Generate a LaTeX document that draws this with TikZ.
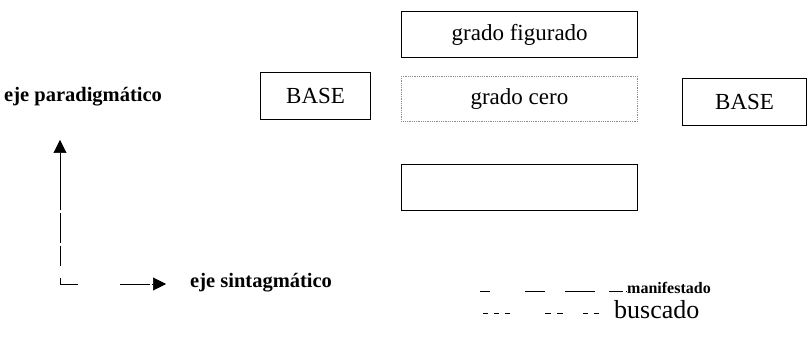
\documentclass[tikz,border=0pt]{standalone}
\usepackage{fontspec}
\setmainfont{Liberation Serif}
\usetikzlibrary{arrows.meta}
\begin{document}
\begin{tikzpicture}[x=1pt,y=-1pt,
  boxfont/.style={font=\fontsize{23}{25}\selectfont},
  solidbox/.style={draw=black,line width=1.4pt,minimum width=236pt,minimum height=46pt,anchor=north west,inner sep=0pt,boxfont},
  basebox/.style={draw=black,line width=1.2pt,minimum height=47pt,anchor=north west,inner sep=0pt,boxfont},
  zerobox/.style={draw=black!45,densely dotted,line width=0.8pt,minimum width=236pt,minimum height=45pt,anchor=north west,inner sep=0pt,boxfont},
  lbl/.style={inner sep=0pt,font=\bfseries\fontsize{20.5}{23}\selectfont},
  tip/.style={-{Triangle[length=13pt,width=13pt]}}]
\useasboundingbox (0,0) rectangle (807,339);
\node[solidbox] (fig) at (401,11) {grado figurado};
\node[zerobox] (cero) at (401,76) {grado cero};
\node[solidbox] (empty) at (401,164) {};
\node[basebox,minimum width=110pt] (base1) at (260,72) {BASE};
\node[basebox,minimum width=124pt] (base2) at (682,78) {BASE};
\node[lbl,anchor=west] (par) at (4,97) {eje paradigm\'atico};
\node[lbl,anchor=west] (sin) at (190,283) {eje sintagm\'atico};
\coordinate (corner) at (60,284);
\coordinate (uptip) at (60,140);
\coordinate (righttip) at (166,284);
\draw[line width=0.6pt,dash pattern=on 6pt off 12pt on 20pt off 3pt on 30pt off 3pt on 120pt,tip] (corner) -- (uptip);
\draw[line width=0.6pt,dash pattern=on 18pt off 42pt on 30pt off 2pt,tip] (corner) -- (righttip);
\node[inner sep=0pt,anchor=west,font=\bfseries\fontsize{16}{17}\selectfont] (man) at (627,288) {manifestado};
\node[inner sep=0pt,anchor=west,font=\fontsize{26}{27}\selectfont] (bus) at (614,310) {buscado};
\coordinate (mstart) at (480,291);
\coordinate (bstart) at (483,313);
\draw[line width=0.8pt,dash pattern=on 10pt off 35pt on 20pt off 20pt on 30pt off 14pt on 14pt off 3pt] (mstart) -- (mstart -| man.west);
\draw[line width=0.8pt,dash pattern=on 5pt off 6pt on 5pt off 6pt on 5pt off 35pt on 6pt off 6pt on 6pt off 20pt on 5pt off 6pt] (bstart) -- (bstart -| 604,0);
\end{tikzpicture}
\end{document}
